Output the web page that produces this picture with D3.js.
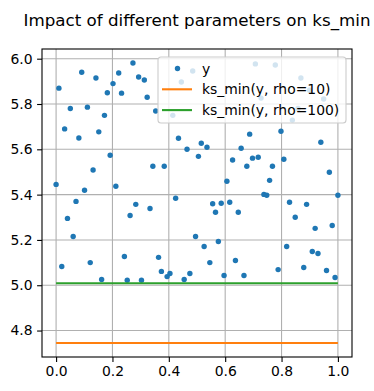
<!DOCTYPE html>
<html>
<head>
<meta charset="utf-8">
<script src="https://cdn.jsdelivr.net/npm/d3@7"></script>
<style>
  body { margin: 0; background: #fff; }
  svg { display: block; font-family: "DejaVu Sans", sans-serif; }
</style>
</head>
<body>
<div id="chart"></div>
<script>
// Sample positions (linspace 0..1, 100 points)
const xValues = [
  0, .0101, .0202, .0303, .0404, .0505, .0606, .0707, .0808, .0909,
  .1010, .1111, .1212, .1313, .1414, .1515, .1616, .1717, .1818, .1919,
  .2020, .2121, .2222, .2323, .2424, .2525, .2626, .2727, .2828, .2929,
  .3030, .3131, .3232, .3333, .3434, .3535, .3636, .3737, .3838, .3939,
  .4040, .4141, .4242, .4343, .4444, .4545, .4646, .4747, .4848, .4949,
  .5051, .5152, .5253, .5354, .5455, .5556, .5657, .5758, .5859, .5960,
  .6061, .6162, .6263, .6364, .6465, .6566, .6667, .6768, .6869, .6970,
  .7071, .7172, .7273, .7374, .7475, .7576, .7677, .7778, .7879, .7980,
  .8081, .8182, .8283, .8384, .8485, .8586, .8687, .8788, .8889, .8990,
  .9091, .9192, .9293, .9394, .9495, .9596, .9697, .9798, .9899, 1
];

const yValues = [
  5.445, 5.870, 5.083, 5.690, 5.295, 5.780, 5.215, 5.370, 5.650, 5.940,
  5.419, 5.786, 5.100, 5.509, 5.915, 5.677, 5.025, 5.750, 5.850, 5.574,
  5.890, 5.437, 5.937, 5.848, 5.127, 5.022, 5.308, 5.981, 5.357, 5.919,
  5.022, 5.906, 5.830, 5.339, 5.525, 5.769, 5.123, 5.061, 5.525, 5.038,
  5.052, 5.750, 5.384, 5.649, 5.897, 5.025, 5.600, 5.052, 5.946, 5.215,
  5.569, 5.627, 5.171, 5.609, 5.100, 5.360, 5.322, 5.193, 5.362, 5.043,
  5.459, 5.366, 5.553, 5.109, 5.322, 5.605, 5.043, 5.525, 5.667, 5.561,
  5.977, 5.565, 5.826, 5.401, 5.397, 5.463, 5.525, 5.972, 5.069, 5.680,
  5.556, 5.171, 5.366, 5.729, 5.300, 5.780, 5.915, 5.078, 5.357, 5.861,
  5.149, 5.251, 5.140, 5.631, 5.822, 5.065, 5.499, 5.264, 5.034, 5.397
];

// ks_min results for the two rho settings
const ksMinLabels = ["ks_min(y, rho=10)", "ks_min(y, rho=100)"];
const ksMinValues = [4.745, 5.009];
const ksMinColors = ["#ff7f0e", "#2ca02c"];

const xTicks = [0.0, 0.2, 0.4, 0.6, 0.8, 1.0];
const yTicks = [4.8, 5.0, 5.2, 5.4, 5.6, 5.8, 6.0];

const chartTitle = "Impact of different parameters on ks_min";

const width = 374, height = 391;
const margin = { top: 49, right: 22, bottom: 34, left: 42 };
const innerW = width - margin.left - margin.right;
const innerH = height - margin.top - margin.bottom;

const svg = d3.select("#chart")
  .append("svg")
  .attr("width", width)
  .attr("height", height);

// Title
svg.append("text")
  .attr("x", margin.left + innerW / 2)
  .attr("y", 26)
  .attr("text-anchor", "middle")
  .style("font-size", "16.7px")
  .text(chartTitle);

const g = svg.append("g")
  .attr("transform", `translate(${margin.left},${margin.top})`);

// matplotlib-like 5% margins
const allY = yValues.concat(ksMinValues);
const yMin = d3.min(allY), yMax = d3.max(allY);
const yPad = (yMax - yMin) * 0.05;

const x = d3.scaleLinear().domain([-0.05, 1.05]).range([0, innerW]);
const y = d3.scaleLinear().domain([yMin - yPad, yMax + yPad]).range([innerH, 0]);

// Grid
g.append("g")
  .selectAll("line")
  .data(xTicks)
  .enter()
  .append("line")
  .attr("x1", d => x(d)).attr("x2", d => x(d))
  .attr("y1", 0).attr("y2", innerH)
  .attr("stroke", "#b0b0b0")
  .attr("stroke-width", 1.1);

g.append("g")
  .selectAll("line")
  .data(yTicks)
  .enter()
  .append("line")
  .attr("x1", 0).attr("x2", innerW)
  .attr("y1", d => y(d)).attr("y2", d => y(d))
  .attr("stroke", "#b0b0b0")
  .attr("stroke-width", 1.1);

// Scatter points
const points = xValues.map((d, i) => ({ x: d, y: yValues[i] }));
g.append("g")
  .selectAll("circle")
  .data(points)
  .enter()
  .append("circle")
  .attr("cx", d => x(d.x))
  .attr("cy", d => y(d.y))
  .attr("r", 2.7)
  .attr("fill", "#1f77b4");

// Horizontal ks_min lines
const line = d3.line().x(d => x(d[0])).y(d => y(d[1]));
ksMinValues.forEach((v, i) => {
  g.append("path")
    .attr("d", line([[d3.min(xValues), v], [d3.max(xValues), v]]))
    .attr("stroke", ksMinColors[i])
    .attr("stroke-width", 2.1)
    .attr("fill", "none");
});

// Axes
const xAxis = g.append("g")
  .attr("transform", `translate(0,${innerH})`)
  .call(d3.axisBottom(x).tickValues(xTicks).tickFormat(d3.format(".1f")).tickSize(4.9).tickPadding(4.5));
const yAxis = g.append("g")
  .call(d3.axisLeft(y).tickValues(yTicks).tickFormat(d3.format(".1f")).tickSize(4.9).tickPadding(4.5));

[xAxis, yAxis].forEach(ax => {
  ax.select(".domain").remove();
  ax.selectAll("line").attr("stroke", "#000").attr("stroke-width", 1.1);
  ax.selectAll("text")
    .attr("fill", "#000")
    .style("font-size", "13.9px")
    .style("font-family", "DejaVu Sans, sans-serif");
});

// Frame
g.append("rect")
  .attr("x", 0).attr("y", 0)
  .attr("width", innerW).attr("height", innerH)
  .attr("fill", "none")
  .attr("stroke", "#000")
  .attr("stroke-width", 1.1);

// Legend
const legend = svg.append("g").attr("transform", "translate(158,57)");
legend.append("rect")
  .attr("x", 0).attr("y", 0)
  .attr("width", 188).attr("height", 66)
  .attr("rx", 3).attr("ry", 3)
  .attr("fill", "#fff")
  .attr("fill-opacity", 0.8)
  .attr("stroke", "#cccccc")
  .attr("stroke-width", 1.1);

const legendItems = [{ label: "y", type: "dot", color: "#1f77b4" }]
  .concat(ksMinLabels.map((l, i) => ({ label: l, type: "line", color: ksMinColors[i] })));

legendItems.forEach((item, i) => {
  const cy = 11.5 + i * 20.8;
  if (item.type === "dot") {
    legend.append("circle")
      .attr("cx", 19.5).attr("cy", cy)
      .attr("r", 2.7)
      .attr("fill", item.color);
  } else {
    legend.append("line")
      .attr("x1", 4).attr("x2", 34)
      .attr("y1", cy).attr("y2", cy)
      .attr("stroke", item.color)
      .attr("stroke-width", 2.1);
  }
  legend.append("text")
    .attr("x", 44)
    .attr("y", cy + 5)
    .style("font-size", "13.9px")
    .text(item.label);
});
</script>
</body>
</html>
